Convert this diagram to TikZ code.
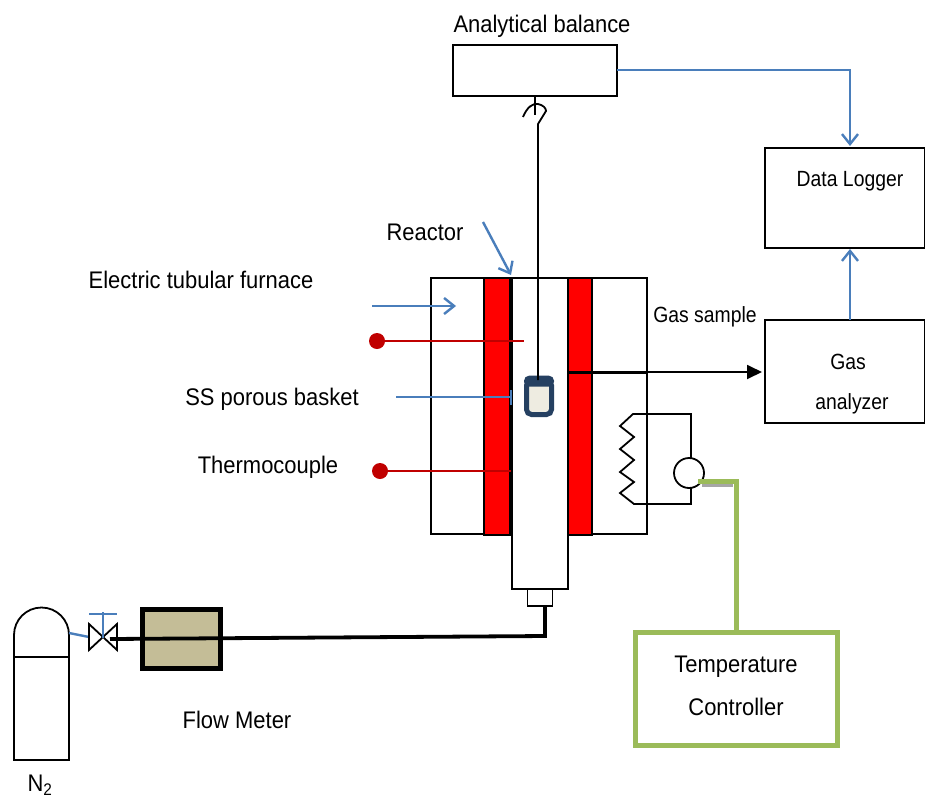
\documentclass[tikz,border=0pt]{standalone}
\usepackage{fontspec}
\setmainfont{Liberation Sans}
\usetikzlibrary{arrows.meta, positioning}
\definecolor{bluewire}{HTML}{4A7EBB}
\definecolor{greenwire}{HTML}{9BBB59}
\definecolor{redwire}{HTML}{C00000}
\definecolor{metertan}{HTML}{C4BD97}
\definecolor{basketnavy}{HTML}{254061}
\definecolor{basketfill}{HTML}{EEECE1}

\begin{document}
\begin{tikzpicture}[x=1pt,y=-1pt,
	box/.style={draw, line width=1.8pt, fill=white, inner sep=0pt, outer sep=0pt, anchor=north west},
	heater/.style={box, fill=red},
	lbl/.style={inner sep=0pt, font=\fontsize{24}{28}\selectfont, xscale=0.915},
	smalllbl/.style={inner sep=0pt, font=\fontsize{22}{26}\selectfont, xscale=0.88},
	wire/.style={line width=1.8pt},
	bluearrow/.style={bluewire, line width=2.4pt, -{Straight Barb[length=10pt,width=16pt,line width=2.4pt]}},
	blueline/.style={bluewire, line width=2.4pt},
	redline/.style={redwire, line width=2.2pt},
	pipe/.style={line width=3.8pt},
	dot/.style={circle, fill=redwire, minimum size=16pt, inner sep=0pt}]
	\useasboundingbox (0,0) rectangle (925,798);

	\node[box, minimum width=164pt, minimum height=51pt] (balance) at (453,45) {};
	\node[box, minimum width=160pt, minimum height=100pt] (logger) at (765,148) {};
	\node[box, minimum width=160pt, minimum height=103pt] (analyzer) at (765,320) {};
	\node[box, minimum width=216pt, minimum height=256pt] (furnace) at (431,278) {};
	\node[heater, minimum width=26pt, minimum height=257pt] (heatl) at (484,278) {};
	\node[heater, minimum width=24pt, minimum height=257pt] (heatr) at (568,278) {};
	\node[box, minimum width=56pt, minimum height=311pt] (reactor) at (512,278) {};
	\node[box, minimum width=25pt, minimum height=17pt, below=0pt of reactor.south, anchor=north] (plug) {};
	\node[box, draw=greenwire, line width=5pt, minimum width=202pt, minimum height=113pt] (controller) at (635,632) {};
	\node[box, line width=5pt, fill=metertan, minimum width=78pt, minimum height=59pt] (meter) at (142.5,609.5) {};
	\node[circle, draw, line width=1.8pt, minimum size=30pt, inner sep=0pt] (sensor) at (689,473) {};
	\node[draw=basketnavy, line width=5pt, fill=basketfill, rounded corners=5pt, inner sep=0pt, minimum width=25pt, minimum height=34pt] (basket) at (539,397.5) {};
	\node[fill=basketnavy, rounded corners=5pt, inner sep=0pt, minimum width=30pt, minimum height=11pt, below=-2.5pt of basket.north] (basketcap) {};

	\node[lbl] (lbalance) at (542,26) {Analytical balance};
	\node[lbl] (lreactor) at (425,232) {Reactor};
	\node[lbl] (lfurnace) at (201,280) {Electric tubular furnace};
	\node[lbl] (lbasket) at (272,399) {SS porous basket};
	\node[lbl] (lcouple) at (268,467) {Thermocouple};
	\node[smalllbl] (lsample) at (705,317) {Gas sample};
	\node[lbl] (lmeter) at (237,720) {Flow Meter};
	\node[lbl] (ltempa) at (736,667) {Temperature};
	\node[lbl] (ltempb) at (736,707) {Controller};
	\node[smalllbl] (llogger) at (850,181) {Data Logger};
	\node[smalllbl] (lgasa) at (848,362) {Gas};
	\node[smalllbl] (lgasb) at (852,404) {analyzer};
	\node[lbl] (lnitro) at (40,785) {N\textsubscript{2}};

	\node[dot] (dota) at (377,341) {};
	\node[dot] (dotb) at (380,471) {};

	\coordinate (hookin) at (535,96);
	\coordinate (hookend) at (535,115);
	\coordinate (hookbend) at (538,124);
	\coordinate (basketwire) at (538,380);
	\coordinate (loggerin) at (850,146);
	\coordinate (analyzerout) at (850,320);
	\coordinate (loggerbase) at (850,249);
	\coordinate (balanceout) at (617,70);
	\coordinate (reactortip) at (511,275);
	\coordinate (reactorstart) at (483,222);
	\coordinate (furnacestart) at (372,306);
	\coordinate (furnacetip) at (456,306);
	\coordinate (coilend) at (524,341);
	\coordinate (couplend) at (511,471);
	\coordinate (basketstart) at (396,397);
	\coordinate (baskettip) at (511,397);
	\coordinate (samplea) at (568,372);
	\coordinate (sampleb) at (647,372);
	\coordinate (samplec) at (762,372);
	\coordinate (coiltop) at (633,414);
	\coordinate (coilbot) at (634,504);
	\coordinate (sensortop) at (691,458);
	\coordinate (sensorbot) at (691,488);
	\coordinate (pipecorner) at (545,636);
	\coordinate (pipedrop) at (545,606);
	\coordinate (valve) at (103,638);
	\coordinate (valveout) at (110,639);
	\coordinate (greenin) at (736,631);
	\coordinate (greenbend) at (736,481);
	\coordinate (greenout) at (698,481);
	\coordinate (gasout) at (69,633);
	\coordinate (gasin) at (89,637);
	\coordinate (stemtop) at (103,612);

	% balance and hook
	\draw[wire] (hookin) -- (hookend);
	\draw[wire] (523,117) .. controls (527,107) and (533,103) .. (538,104) .. controls (543,105) and (546,108) .. (546,111) -- (hookbend) -- (basketwire);
	\draw[bluearrow] (balanceout) -| (loggerin);
	\draw[bluearrow] (analyzerout) -- (loggerbase);

	% labels with arrows
	\draw[bluearrow] (reactorstart) -- (reactortip);
	\draw[bluearrow] (furnacestart) -- (furnacetip);
	\draw[blueline] (basketstart) -- (baskettip);
	\draw[blueline] (511,390) -- (511,405);
	\draw[redline] (dota) -- (coilend);
	\draw[redline] (dotb) -- (couplend);

	% gas sample
	\draw[pipe, line width=3pt] (samplea) -- (sampleb);
	\draw[wire, -{Triangle[length=15pt,width=14pt]}] (sampleb) -- (samplec);

	% heating coil
	\draw[wire] (sensortop) -- (691,414) -- (coiltop) -- (620,426) -- (634,437) -- (620,449) -- (634,460) -- (620,472) -- (634,482) -- (620,493) -- (coilbot) -- (691,504) -- (sensorbot);
	\draw[line width=3pt, black!35] (702,485) -- (733,485);
	\draw[greenwire, line width=5pt] (greenin) -- (greenbend) -- (greenout);

	% cylinder
	\draw[wire] (14,760) -- (14,635) arc[start angle=180, end angle=0, radius=27.5pt] -- (69,760) -- cycle;
	\draw[wire] (14,657) -- (69,657);
	\draw[blueline] (gasout) -- (gasin);

	% valve
	\draw[wire, fill=white, line join=miter] (89,624) -- (117,650) -- (117,624) -- (89,650) -- cycle;
	\draw[blueline] (valve) -- (stemtop);
	\draw[blueline] (89,614) -- (117,614);

	% feed line
	\draw[pipe] (pipedrop) -- (pipecorner) -- (valveout);
\end{tikzpicture}
\end{document}
